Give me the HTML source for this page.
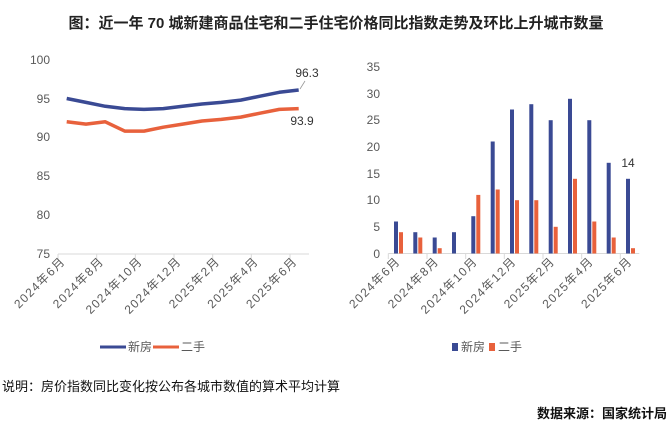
<!DOCTYPE html>
<html><head><meta charset="utf-8"><style>
body{margin:0;background:#fff}
svg{display:block}
text{font-family:"Liberation Sans","Noto Sans CJK SC",sans-serif}
.xl{letter-spacing:1.3px}
</style></head><body>
<svg width="672" height="425" viewBox="0 0 672 425" xmlns="http://www.w3.org/2000/svg">
<text x="336" y="28" text-anchor="middle" font-size="15" font-weight="bold" fill="#222">图：近一年 70 城新建商品住宅和二手住宅价格同比指数走势及环比上升城市数量</text>
<g font-size="12" fill="#595959" text-anchor="end">
<text x="50" y="64">100</text><text x="50" y="103">95</text><text x="50" y="141">90</text><text x="50" y="180">85</text><text x="50" y="219">80</text><text x="50" y="258">75</text>
</g>
<g stroke="#d9d9d9" stroke-width="1">
<line x1="58" y1="254" x2="309" y2="254"/>
<line x1="58" y1="254" x2="58" y2="259"/><line x1="96.7" y1="254" x2="96.7" y2="259"/><line x1="135.3" y1="254" x2="135.3" y2="259"/><line x1="174" y1="254" x2="174" y2="259"/><line x1="212.7" y1="254" x2="212.7" y2="259"/><line x1="251.3" y1="254" x2="251.3" y2="259"/><line x1="290" y1="254" x2="290" y2="259"/>
</g>
<polyline fill="none" stroke="#3a4a94" stroke-width="3.5" stroke-linejoin="round" points="66.7,98.5 86,102.4 105.3,106.3 124.7,108.6 144,109.4 163.3,108.6 182.7,106.3 202,104 221.3,102.4 240.7,100.1 260,96.2 279.3,92.3 298.7,90"/>
<polyline fill="none" stroke="#e8613c" stroke-width="3.5" stroke-linejoin="round" points="66.7,121.8 86,124.1 105.3,121.8 124.7,131.1 144,131.1 163.3,127.2 182.7,124.1 202,121 221.3,119.4 240.7,117.1 260,113.2 279.3,109.4 298.7,108.6"/>
<line x1="300" y1="89" x2="305" y2="81" stroke="#999" stroke-width="0.8"/>
<text x="307" y="77" font-size="12" fill="#333" text-anchor="middle">96.3</text>
<text x="302" y="125" font-size="12" fill="#333" text-anchor="middle">93.9</text>
<g font-size="12" fill="#595959" text-anchor="end" class="xl">
<text transform="translate(66,262) rotate(-45)">2024年6月</text>
<text transform="translate(104.7,262) rotate(-45)">2024年8月</text>
<text transform="translate(143.3,262) rotate(-45)">2024年10月</text>
<text transform="translate(182,262) rotate(-45)">2024年12月</text>
<text transform="translate(220.7,262) rotate(-45)">2025年2月</text>
<text transform="translate(259.3,262) rotate(-45)">2025年4月</text>
<text transform="translate(298,262) rotate(-45)">2025年6月</text>
</g>
<g font-size="12" fill="#595959" text-anchor="end">
<text x="380" y="71">35</text><text x="380" y="98">30</text><text x="380" y="124">25</text><text x="380" y="151">20</text><text x="380" y="178">15</text><text x="380" y="204">10</text><text x="380" y="231">5</text><text x="380" y="258">0</text>
</g>
<g stroke="#d9d9d9" stroke-width="1">
<line x1="388.3" y1="253.5" x2="639.3" y2="253.5"/>
<line x1="388.3" y1="253.5" x2="388.3" y2="259"/><line x1="427" y1="253.5" x2="427" y2="259"/><line x1="465.7" y1="253.5" x2="465.7" y2="259"/><line x1="504.3" y1="253.5" x2="504.3" y2="259"/><line x1="543" y1="253.5" x2="543" y2="259"/><line x1="581.7" y1="253.5" x2="581.7" y2="259"/><line x1="620.3" y1="253.5" x2="620.3" y2="259"/>
</g>
<text x="628" y="167" font-size="12" fill="#333" text-anchor="middle">14</text>
<g font-size="12" fill="#595959" text-anchor="end" class="xl">
<text transform="translate(401,262) rotate(-45)">2024年6月</text>
<text transform="translate(439.7,262) rotate(-45)">2024年8月</text>
<text transform="translate(478.3,262) rotate(-45)">2024年10月</text>
<text transform="translate(517,262) rotate(-45)">2024年12月</text>
<text transform="translate(555.7,262) rotate(-45)">2025年2月</text>
<text transform="translate(594.3,262) rotate(-45)">2025年4月</text>
<text transform="translate(633,262) rotate(-45)">2025年6月</text>
</g>
<line x1="100" y1="347" x2="126" y2="347" stroke="#3a4a94" stroke-width="3"/>
<text x="128" y="351" font-size="12" fill="#595959">新房</text>
<line x1="153" y1="347" x2="179" y2="347" stroke="#e8613c" stroke-width="3"/>
<text x="181" y="351" font-size="12" fill="#595959">二手</text>
<rect x="452" y="343" width="6" height="8" fill="#3a4a94"/>
<text x="461" y="351" font-size="12" fill="#595959">新房</text>
<rect x="489" y="343" width="6" height="8" fill="#e8613c"/>
<text x="498" y="351" font-size="12" fill="#595959">二手</text>
<text x="2" y="391" font-size="13" fill="#111">说明：房价指数同比变化按公布各城市数值的算术平均计算</text>
<text x="667" y="418" font-size="13" font-weight="bold" fill="#111" text-anchor="end">数据来源：国家统计局</text>
<g>
<rect x="394" y="221.5" width="4" height="32" fill="#3a4a94"/><rect x="399" y="232.2" width="4" height="21.3" fill="#e8613c"/>
<rect x="413.3" y="232.2" width="4" height="21.3" fill="#3a4a94"/><rect x="418.3" y="237.5" width="4" height="16" fill="#e8613c"/>
<rect x="432.7" y="237.5" width="4" height="16" fill="#3a4a94"/><rect x="437.7" y="248.2" width="4" height="5.3" fill="#e8613c"/>
<rect x="452" y="232.2" width="4" height="21.3" fill="#3a4a94"/>
<rect x="471.3" y="216.2" width="4" height="37.3" fill="#3a4a94"/><rect x="476.3" y="194.9" width="4" height="58.6" fill="#e8613c"/>
<rect x="490.7" y="141.5" width="4" height="112" fill="#3a4a94"/><rect x="495.7" y="189.5" width="4" height="64" fill="#e8613c"/>
<rect x="510" y="109.5" width="4" height="144" fill="#3a4a94"/><rect x="515" y="200.2" width="4" height="53.3" fill="#e8613c"/>
<rect x="529.3" y="104.2" width="4" height="149.3" fill="#3a4a94"/><rect x="534.3" y="200.2" width="4" height="53.3" fill="#e8613c"/>
<rect x="548.7" y="120.2" width="4" height="133.3" fill="#3a4a94"/><rect x="553.7" y="226.8" width="4" height="26.7" fill="#e8613c"/>
<rect x="568" y="98.8" width="4" height="154.7" fill="#3a4a94"/><rect x="573" y="178.8" width="4" height="74.7" fill="#e8613c"/>
<rect x="587.3" y="120.2" width="4" height="133.3" fill="#3a4a94"/><rect x="592.3" y="221.5" width="4" height="32" fill="#e8613c"/>
<rect x="606.7" y="162.8" width="4" height="90.7" fill="#3a4a94"/><rect x="611.7" y="237.5" width="4" height="16" fill="#e8613c"/>
<rect x="626" y="178.8" width="4" height="74.7" fill="#3a4a94"/><rect x="631" y="248.2" width="4" height="5.3" fill="#e8613c"/>
</g>
</svg>
</body></html>
